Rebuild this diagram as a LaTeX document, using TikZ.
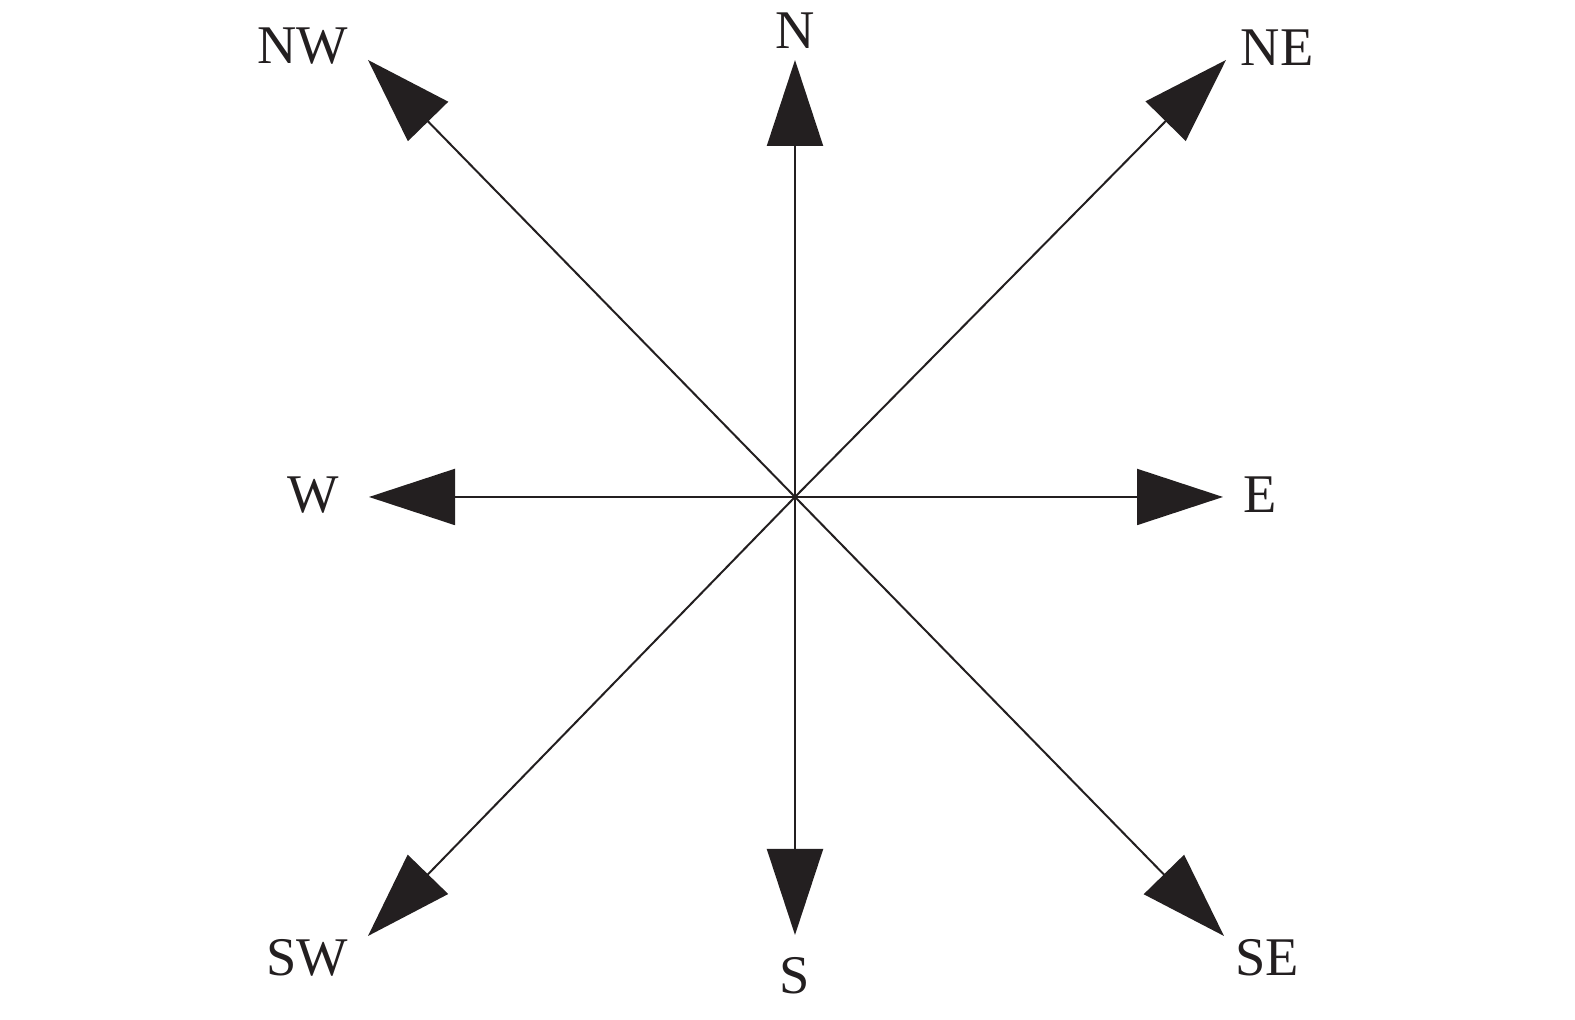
\documentclass[tikz,border=0pt]{standalone}
\usepackage{fontspec}
\setmainfont{Liberation Serif}
\usetikzlibrary{arrows.meta}
\definecolor{inkblack}{RGB}{35,31,32}
\begin{document}
\begin{tikzpicture}[color = {inkblack},line width = 0.57pt,
  dir/.style = {-{Triangle[length=0.86cm,width=0.56cm]}},
  lbl/.style = {font=\fontsize{15.5}{18}\selectfont,inner sep=0pt}]
\useasboundingbox (0,0) rectangle (15.75,10.2);
\coordinate (O) at (7.95,5.23);
\coordinate (tipN) at (7.95,9.6);
\coordinate (tipS) at (7.95,0.85);
\coordinate (tipE) at (12.23,5.23);
\coordinate (tipW) at (3.69,5.23);
\coordinate (tipNE) at (12.26,9.6);
\coordinate (tipNW) at (3.68,9.6);
\coordinate (tipSE) at (12.24,0.84);
\coordinate (tipSW) at (3.68,0.84);
\draw[dir] (O) -- (tipN);
\draw[dir] (O) -- (tipS);
\draw[dir] (O) -- (tipE);
\draw[dir] (O) -- (tipW);
\draw[dir] (O) -- (tipNE);
\draw[dir] (O) -- (tipNW);
\draw[dir] (O) -- (tipSE);
\draw[dir] (O) -- (tipSW);
\node[lbl] (labN) at (7.95,9.89) {N};
\node[lbl] (labS) at (7.95,0.44) {S};
\node[lbl] (labE) at (12.6,5.25) {E};
\node[lbl] (labW) at (3.13,5.25) {W};
\node[lbl] (labNE) at (12.77,9.72) {NE};
\node[lbl] (labNW) at (3.03,9.74) {NW};
\node[lbl] (labSE) at (12.67,0.62) {SE};
\node[lbl] (labSW) at (3.07,0.62) {SW};
\end{tikzpicture}
\end{document}
